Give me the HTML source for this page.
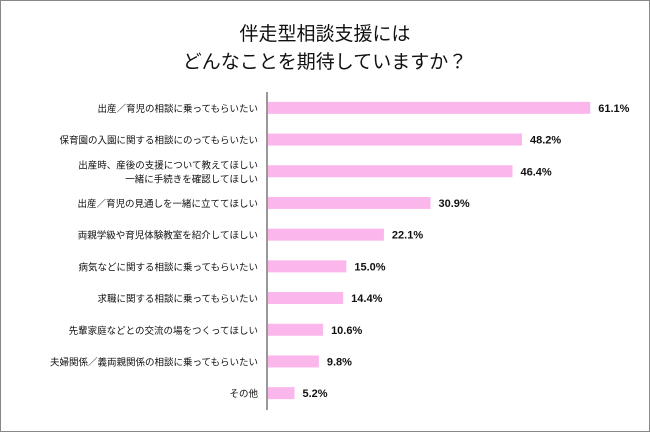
<!DOCTYPE html>
<html><head><meta charset="utf-8"><style>
body{margin:0;background:#fff}
svg{display:block;font-family:"Liberation Sans","Noto Sans CJK JP",sans-serif}
</style></head><body>
<svg id="c" width="650" height="432">
<rect x="0.5" y="0.5" width="649" height="431" fill="#fff" stroke="#888"/>
<text x="325" y="40" text-anchor="middle" font-size="19" fill="#111">伴走型相談支援には</text>
<text x="325" y="68" text-anchor="middle" font-size="19" fill="#111">どんなことを期待していますか？</text>
<line x1="267" y1="92" x2="267" y2="410" stroke="#333" stroke-width="1"/>
</svg>
<script>
const categories=[["出産／育児の相談に乗ってもらいたい"],["保育園の入園に関する相談にのってもらいたい"],["出産時、産後の支援について教えてほしい","一緒に手続きを確認してほしい"],["出産／育児の見通しを一緒に立ててほしい"],["両親学級や育児体験教室を紹介してほしい"],["病気などに関する相談に乗ってもらいたい"],["求職に関する相談に乗ってもらいたい"],["先輩家庭などとの交流の場をつくってほしい"],["夫婦関係／義両親関係の相談に乗ってもらいたい"],["その他"]];
const values=[61.1,48.2,46.4,30.9,22.1,15.0,14.4,10.6,9.8,5.2];
const labels=["61.1%","48.2%","46.4%","30.9%","22.1%","15.0%","14.4%","10.6%","9.8%","5.2%"];
const svg=document.getElementById('c');const NS='http://www.w3.org/2000/svg';
const x0=267,pxPer=5.29,top0=92,step=31.7,bh=12;
const xs=v=>x0+v*pxPer;const yc=i=>top0+step*(i+0.5);
values.forEach((v,i)=>{
const r=document.createElementNS(NS,'rect');
r.setAttribute('x',x0+1);r.setAttribute('y',yc(i)-bh/2);r.setAttribute('width',xs(v)-x0-1);r.setAttribute('height',bh);r.setAttribute('fill','#fbb6ec');


svg.appendChild(r);
const t=document.createElementNS(NS,'text');
t.setAttribute('x',xs(v)+8);t.setAttribute('y',yc(i)+4);t.setAttribute('font-size','11');t.setAttribute('font-weight','bold');t.setAttribute('fill','#111');t.textContent=labels[i];


svg.appendChild(t);
const lines=categories[i];
lines.forEach((s,j)=>{
const c=document.createElementNS(NS,'text');
c.setAttribute('x',258);c.setAttribute('y',yc(i)+4+(j-(lines.length-1)/2)*14);c.setAttribute('text-anchor','end');c.setAttribute('font-size','9.5');c.setAttribute('fill','#111');c.textContent=s;


svg.appendChild(c);});
});
</script>
</body></html>
